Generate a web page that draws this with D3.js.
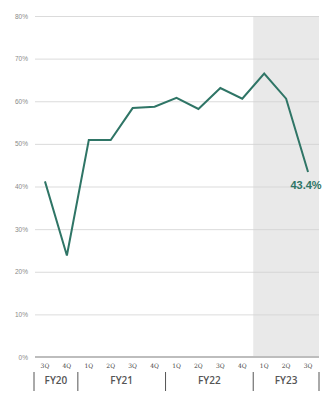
<!DOCTYPE html>
<html>
<head>
<meta charset="utf-8">
<script src="https://cdn.jsdelivr.net/npm/d3@7"></script>
<style>
  body { margin: 0; background: #fff; }
</style>
</head>
<body>
<div id="chart"></div>
<script>
// Data
var quarters = ["3Q", "4Q", "1Q", "2Q", "3Q", "4Q", "1Q", "2Q", "3Q", "4Q", "1Q", "2Q", "3Q"];
var fiscalYears = ["FY20", "FY20", "FY21", "FY21", "FY21", "FY21", "FY22", "FY22", "FY22", "FY22", "FY23", "FY23", "FY23"];
var values = [41.2, 23.8, 50.9, 50.9, 58.4, 58.7, 60.8, 58.2, 63.1, 60.6, 66.5, 60.6, 43.4];
var yTicks = [0, 10, 20, 30, 40, 50, 60, 70, 80];
var shadedYear = "FY23";
var lastLabel = "43.4%";

var width = 324, height = 393;
var lineColor = "#2f7566";

var svg = d3.select("#chart").append("svg")
    .attr("width", width)
    .attr("height", height);

// x is a band per quarter, the point sits in the middle of the band
var keys = quarters.map((q, i) => i);
var x = d3.scaleBand().domain(keys).range([34, 319]);
var y = d3.scaleLinear().domain([0, 80]).range([357, 16]);

// Shaded area for the current fiscal year
var shadedIdx = keys.filter(i => fiscalYears[i] == shadedYear);
svg.append("rect")
    .attr("x", x(shadedIdx[0]))
    .attr("y", y(80))
    .attr("width", x(shadedIdx[shadedIdx.length - 1]) + x.bandwidth() - x(shadedIdx[0]))
    .attr("height", y(0) - y(80))
    .attr("fill", "#e9e9e9");

// Gridlines and y labels
var yAxis = svg.append("g")
    .attr("transform", "translate(35,0)")
    .call(d3.axisLeft(y).tickValues(yTicks).tickSize(-284).tickFormat(d => d + "%"));
yAxis.select(".domain").remove();
yAxis.selectAll(".tick line").attr("stroke", "#d2d2d2").attr("stroke-width", 0.8);
yAxis.selectAll(".tick text")
    .attr("x", -7)
    .attr("fill", "#8a8a8a")
    .style("font-family", "Liberation Sans, sans-serif")
    .style("font-size", "6.5px");

// Bottom axis line
svg.append("line")
    .attr("x1", 35).attr("x2", 319)
    .attr("y1", y(0)).attr("y2", y(0))
    .attr("stroke", "#bdbdbd")
    .attr("stroke-width", 2);

// The line
var line = d3.line()
    .x((d, i) => x(i) + x.bandwidth() / 2)
    .y(d => y(d));

svg.append("path")
    .datum(values)
    .attr("fill", "none")
    .attr("stroke", lineColor)
    .attr("stroke-width", 2)
    .attr("stroke-linejoin", "miter")
    .attr("d", line);

// Label for the last point
var lastI = values.length - 1;
svg.append("text")
    .attr("x", x(lastI) + x.bandwidth() / 2 - 2)
    .attr("y", y(values[lastI]) + 17)
    .attr("text-anchor", "middle")
    .attr("fill", lineColor)
    .style("font-family", "Liberation Sans, sans-serif")
    .style("font-weight", "bold")
    .style("font-size", "11px")
    .text(lastLabel);

// Quarter labels
svg.append("g").selectAll("text")
    .data(quarters)
    .join("text")
    .attr("x", (d, i) => x(i) + x.bandwidth() / 2)
    .attr("y", 368)
    .attr("text-anchor", "middle")
    .attr("fill", "#444")
    .style("font-family", "DejaVu Serif, serif")
    .style("font-size", "6px")
    .text(d => d);

// Fiscal year groups
var years = Array.from(new Set(fiscalYears));
var groups = years.map(fy => {
    var idx = keys.filter(i => fiscalYears[i] == fy);
    return { fy: fy, x0: x(idx[0]), x1: x(idx[idx.length - 1]) + x.bandwidth() };
});

var bounds = [groups[0].x0].concat(groups.map(g => g.x1));
svg.append("g").selectAll("line")
    .data(bounds)
    .join("line")
    .attr("x1", d => d).attr("x2", d => d)
    .attr("y1", 372).attr("y2", 391)
    .attr("stroke", "#555")
    .attr("stroke-width", 1);

svg.append("g").selectAll("text")
    .data(groups)
    .join("text")
    .attr("x", d => (d.x0 + d.x1) / 2)
    .attr("y", 384)
    .attr("text-anchor", "middle")
    .attr("fill", "#555")
    .style("font-family", "Open Sans, sans-serif")
    .style("font-weight", "600")
    .style("font-size", "10px")
    .text(d => d.fy);
</script>
</body>
</html>
